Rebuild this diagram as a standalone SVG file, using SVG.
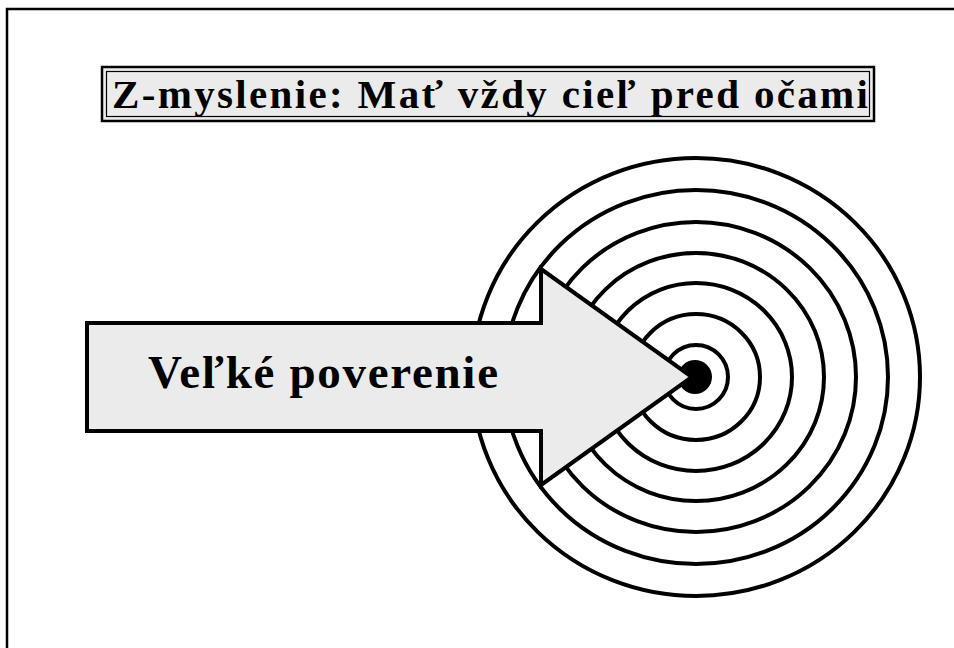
<svg xmlns="http://www.w3.org/2000/svg" width="954" height="648" viewBox="0 0 954 648">
<style>
.ring{fill:none;stroke:#000;stroke-width:4}
.t{font-family:"Liberation Serif","Times New Roman",serif;font-weight:bold;fill:#000}
</style>
<rect width="954" height="648" fill="#fff"/>
<g id="frame">
<path d="M7,648 V9 H954" fill="none" stroke="#000" stroke-width="2.5"/>
</g>
<g id="title">
<rect x="102" y="67" width="772" height="54" fill="#ebebeb" stroke="#000" stroke-width="2.5"/>
<rect x="106.5" y="71.5" width="763" height="45" fill="none" stroke="#000" stroke-width="1.2"/>
<text class="t" x="112" y="108" font-size="41" textLength="756" lengthAdjust="spacing">Z-myslenie: Mať vždy cieľ pred očami</text>
</g>
<g id="target">
<ellipse class="ring" cx="696" cy="377" rx="224" ry="219"/>
<ellipse class="ring" cx="696" cy="377" rx="192" ry="187"/>
<ellipse class="ring" cx="696" cy="377" rx="160" ry="155"/>
<ellipse class="ring" cx="696" cy="377" rx="128" ry="124"/>
<ellipse class="ring" cx="696" cy="377" rx="96" ry="94"/>
<ellipse class="ring" cx="696" cy="377" rx="64" ry="63"/>
<ellipse class="ring" cx="696" cy="377" rx="32" ry="32"/>
<circle cx="695" cy="377" r="17" fill="#000"/>
</g>
<g id="arrow">
<polygon points="87,323 541,323 541,269 692,377 541,485 541,431 87,431" fill="#ebebeb" stroke="#000" stroke-width="4" stroke-linejoin="miter"/>
<text class="t" x="148" y="388" font-size="47" textLength="350" lengthAdjust="spacing">Veľké poverenie</text>
</g>
</svg>
